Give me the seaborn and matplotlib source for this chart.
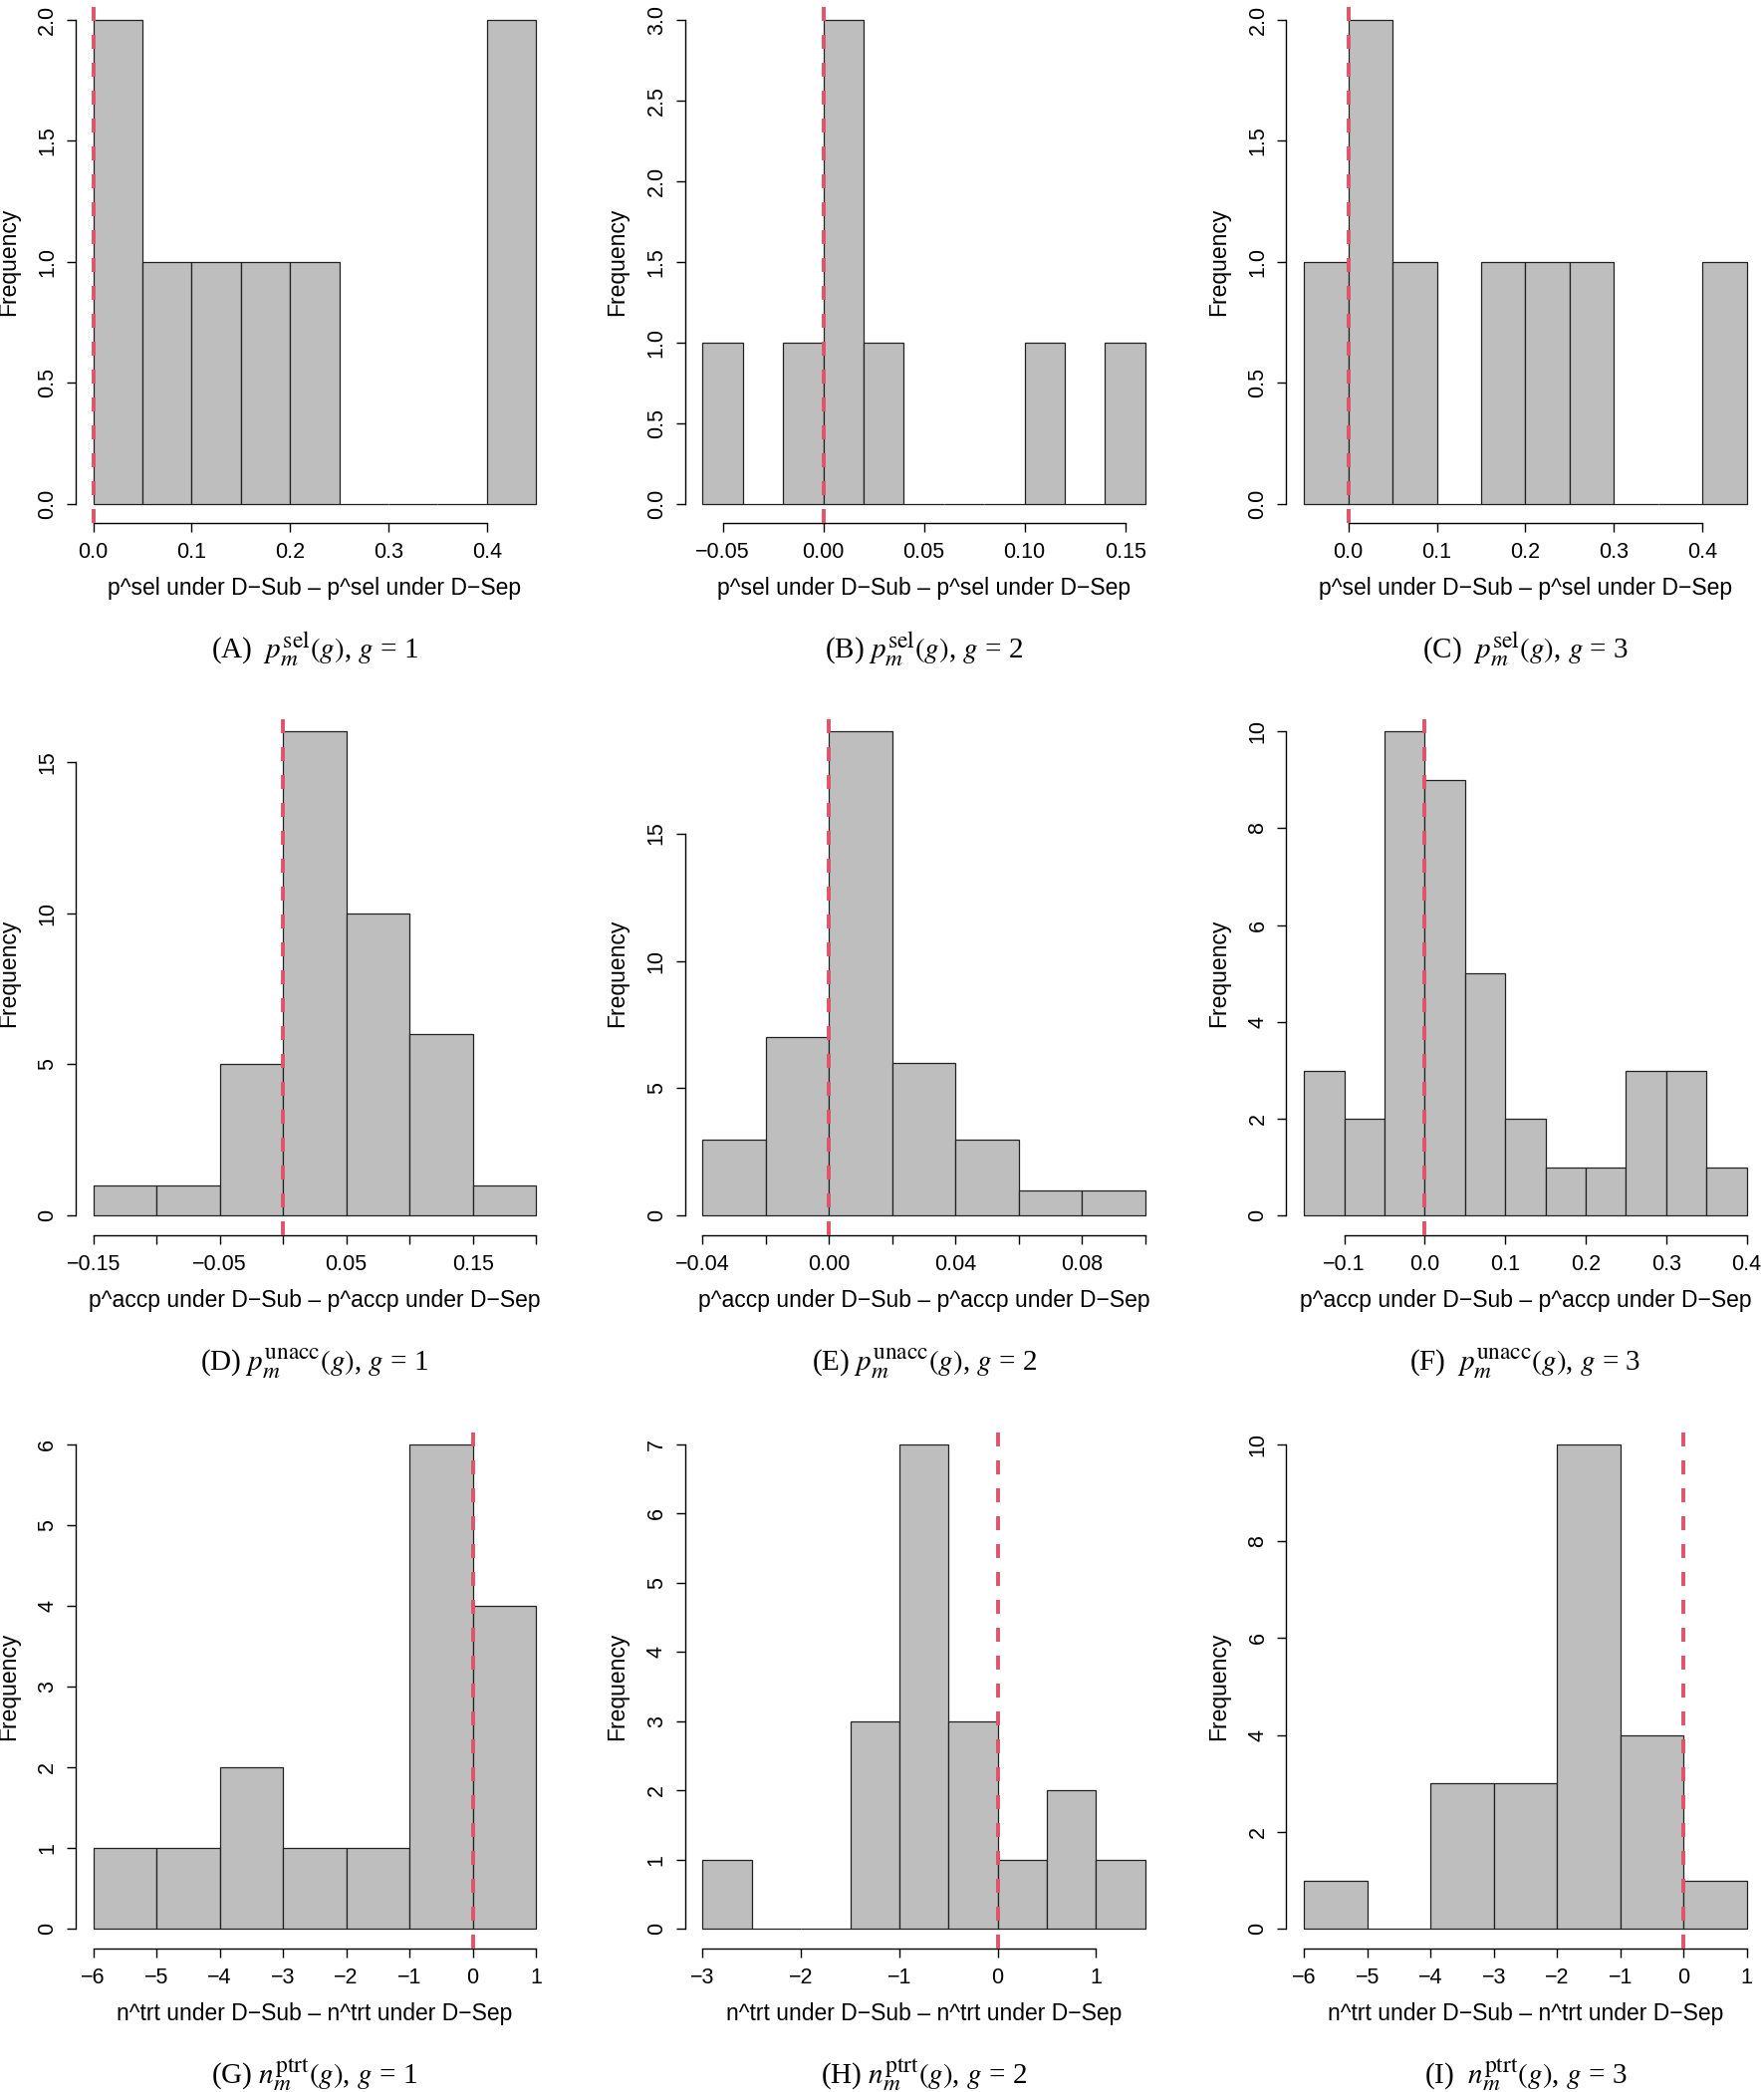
import numpy as np
import pandas as pd
import matplotlib
matplotlib.use("Agg")
import matplotlib.pyplot as plt
import seaborn as sns

try:
    import matplotlib._mathtext as _mt
    _mt.SHRINK_FACTOR = 0.8
except Exception:
    pass

# ---------------- data ----------------
A_breaks = [0.00, 0.05, 0.10, 0.15, 0.20, 0.25, 0.30, 0.35, 0.40, 0.45]
A_counts = [2, 1, 1, 1, 1, 0, 0, 0, 2]
B_breaks = [-0.06, -0.04, -0.02, 0.00, 0.02, 0.04, 0.06, 0.08, 0.10, 0.12, 0.14, 0.16]
B_counts = [1, 0, 1, 3, 1, 0, 0, 0, 1, 0, 1]
C_breaks = [-0.05, 0.00, 0.05, 0.10, 0.15, 0.20, 0.25, 0.30, 0.35, 0.40, 0.45]
C_counts = [1, 2, 1, 0, 1, 1, 1, 0, 0, 1]
D_breaks = [-0.15, -0.10, -0.05, 0.00, 0.05, 0.10, 0.15, 0.20]
D_counts = [1, 1, 5, 16, 10, 6, 1]
E_breaks = [-0.04, -0.02, 0.00, 0.02, 0.04, 0.06, 0.08, 0.10]
E_counts = [3, 7, 19, 6, 3, 1, 1]
F_breaks = [-0.15, -0.10, -0.05, 0.00, 0.05, 0.10, 0.15, 0.20, 0.25, 0.30, 0.35, 0.40]
F_counts = [3, 2, 10, 9, 5, 2, 1, 1, 3, 3, 1]
G_breaks = [-6, -5, -4, -3, -2, -1, 0, 1]
G_counts = [1, 1, 2, 1, 1, 6, 4]
H_breaks = [-3.0, -2.5, -2.0, -1.5, -1.0, -0.5, 0.0, 0.5, 1.0, 1.5]
H_counts = [1, 0, 0, 3, 7, 3, 1, 2, 1]
I_breaks = [-6, -5, -4, -3, -2, -1, 0, 1]
I_counts = [1, 0, 3, 3, 10, 4, 1]

A_xticks = [0.0, 0.1, 0.2, 0.3, 0.4]
A_xlabels = ["0.0", "0.1", "0.2", "0.3", "0.4"]
B_xticks = [-0.05, 0.00, 0.05, 0.10, 0.15]
B_xlabels = ["\u22120.05", "0.00", "0.05", "0.10", "0.15"]
C_xticks = [0.0, 0.1, 0.2, 0.3, 0.4]
C_xlabels = ["0.0", "0.1", "0.2", "0.3", "0.4"]
D_xticks = [-0.15, -0.10, -0.05, 0.00, 0.05, 0.10, 0.15, 0.20]
D_xlabels = ["\u22120.15", "", "\u22120.05", "", "0.05", "", "0.15", ""]
E_xticks = [-0.04, -0.02, 0.00, 0.02, 0.04, 0.06, 0.08, 0.10]
E_xlabels = ["\u22120.04", "", "0.00", "", "0.04", "", "0.08", ""]
F_xticks = [-0.1, 0.0, 0.1, 0.2, 0.3, 0.4]
F_xlabels = ["\u22120.1", "0.0", "0.1", "0.2", "0.3", "0.4"]
G_xticks = [-6, -5, -4, -3, -2, -1, 0, 1]
G_xlabels = ["\u22126", "\u22125", "\u22124", "\u22123", "\u22122", "\u22121", "0", "1"]
H_xticks = [-3, -2, -1, 0, 1]
H_xlabels = ["\u22123", "\u22122", "\u22121", "0", "1"]
I_xticks = [-6, -5, -4, -3, -2, -1, 0, 1]
I_xlabels = ["\u22126", "\u22125", "\u22124", "\u22123", "\u22122", "\u22121", "0", "1"]

A_yticks = [0.0, 0.5, 1.0, 1.5, 2.0]
A_ylabels = ["0.0", "0.5", "1.0", "1.5", "2.0"]
B_yticks = [0.0, 0.5, 1.0, 1.5, 2.0, 2.5, 3.0]
B_ylabels = ["0.0", "0.5", "1.0", "1.5", "2.0", "2.5", "3.0"]
C_yticks = [0.0, 0.5, 1.0, 1.5, 2.0]
C_ylabels = ["0.0", "0.5", "1.0", "1.5", "2.0"]
D_yticks = [0, 5, 10, 15]
D_ylabels = ["0", "5", "10", "15"]
E_yticks = [0, 5, 10, 15]
E_ylabels = ["0", "5", "10", "15"]
F_yticks = [0, 2, 4, 6, 8, 10]
F_ylabels = ["0", "2", "4", "6", "8", "10"]
G_yticks = [0, 1, 2, 3, 4, 5, 6]
G_ylabels = ["0", "1", "2", "3", "4", "5", "6"]
H_yticks = [0, 1, 2, 3, 4, 5, 6, 7]
H_ylabels = ["0", "1", "2", "3", "4", "5", "6", "7"]
I_yticks = [0, 2, 4, 6, 8, 10]
I_ylabels = ["0", "2", "4", "6", "8", "10"]

xlab_sel = "p^sel under D\u2212Sub \u2013 p^sel under D\u2212Sep"
xlab_accp = "p^accp under D\u2212Sub \u2013 p^accp under D\u2212Sep"
xlab_trt = "n^trt under D\u2212Sub \u2013 n^trt under D\u2212Sep"

captions = [
    r"(A)  $p_m^{\mathrm{sel}}(g)$, $g$ = 1",
    r"(B) $p_m^{\mathrm{sel}}(g)$, $g$ = 2",
    r"(C)  $p_m^{\mathrm{sel}}(g)$, $g$ = 3",
    r"(D) $p_m^{\mathrm{unacc}}(g)$, $g$ = 1",
    r"(E) $p_m^{\mathrm{unacc}}(g)$, $g$ = 2",
    r"(F)  $p_m^{\mathrm{unacc}}(g)$, $g$ = 3",
    r"(G) $n_m^{\mathrm{ptrt}}(g)$, $g$ = 1",
    r"(H) $n_m^{\mathrm{ptrt}}(g)$, $g$ = 2",
    r"(I)  $n_m^{\mathrm{ptrt}}(g)$, $g$ = 3",
]

ref_value = 0.0

panels = [
    (A_breaks, A_counts, A_xticks, A_xlabels, A_yticks, A_ylabels, xlab_sel),
    (B_breaks, B_counts, B_xticks, B_xlabels, B_yticks, B_ylabels, xlab_sel),
    (C_breaks, C_counts, C_xticks, C_xlabels, C_yticks, C_ylabels, xlab_sel),
    (D_breaks, D_counts, D_xticks, D_xlabels, D_yticks, D_ylabels, xlab_accp),
    (E_breaks, E_counts, E_xticks, E_xlabels, E_yticks, E_ylabels, xlab_accp),
    (F_breaks, F_counts, F_xticks, F_xlabels, F_yticks, F_ylabels, xlab_accp),
    (G_breaks, G_counts, G_xticks, G_xlabels, G_yticks, G_ylabels, xlab_trt),
    (H_breaks, H_counts, H_xticks, H_xlabels, H_yticks, H_ylabels, xlab_trt),
    (I_breaks, I_counts, I_xticks, I_xlabels, I_yticks, I_ylabels, xlab_trt),
]

# ---------------- style ----------------
sns.set_style("white")
plt.rcParams["font.family"] = ["Liberation Sans", "DejaVu Sans"]
plt.rcParams["mathtext.fontset"] = "stix"
plt.rcParams["axes.unicode_minus"] = True

W, H = 1771, 2100
fig = plt.figure(figsize=(W / 100, H / 100), dpi=100)

col_left = [75.9, 687.6, 1291.4]
col_w = 480.0
row_top = [0.2, 714.8, 1430.6]
row_h = 525.0

TICK_FS = 15.5
LAB_FS = 16.5
CAP_FS = 21

for i, (brk, cnt, xt, xtl, yt, ytl, xlab) in enumerate(panels):
    r, c = divmod(i, 3)
    left = col_left[c] / W
    bottom = 1 - (row_top[r] + row_h) / H
    ax = fig.add_axes([left, bottom, col_w / W, row_h / H])

    edges = [float(b) for b in brk]
    centers = [(edges[k] + edges[k + 1]) / 2 for k in range(len(edges) - 1)]
    df = pd.DataFrame({"x": centers, "n": [float(v) for v in cnt]})
    sns.histplot(data=df, x="x", weights="n", bins=edges, ax=ax,
                 color="#BEBEBE", edgecolor="#222222", linewidth=0.9,
                 alpha=1.0, zorder=2)

    # R-style 4% padding on both axes
    x0, x1 = edges[0], edges[-1]
    xp = 0.04 * (x1 - x0)
    ymax = max(cnt)
    yp = 0.04 * ymax
    ax.set_xlim(x0 - xp, x1 + xp)
    ax.set_ylim(-yp, ymax + yp)

    ax.axvline(ref_value, color="#DF536B", lw=2.8,
               linestyle=(0, (3.6, 3.6)), dash_capstyle="butt", zorder=4)

    for s in ["top", "right"]:
        ax.spines[s].set_visible(False)
    for s in ["left", "bottom"]:
        ax.spines[s].set_linewidth(1.0)
        ax.spines[s].set_color("black")
    ax.spines["bottom"].set_bounds(xt[0], xt[-1])
    ax.spines["left"].set_bounds(yt[0], yt[-1])

    ax.set_xticks(xt)
    ax.set_xticklabels(xtl)
    ax.set_yticks(yt)
    ax.set_yticklabels(ytl)
    ax.tick_params(axis="both", direction="out", length=6.8, width=1.0,
                   color="black", labelsize=TICK_FS, labelcolor="black",
                   bottom=True, left=True)
    ax.tick_params(axis="x", pad=7.0)
    ax.tick_params(axis="y", pad=6.0)
    for lab in ax.get_yticklabels():
        lab.set_rotation(90)
        lab.set_verticalalignment("center")

    ax.set_xlabel(xlab, fontsize=LAB_FS, color="black")
    ax.set_ylabel("Frequency", fontsize=LAB_FS, color="black")
    ax.xaxis.set_label_coords(0.5, -54.0 / row_h)
    ax.yaxis.set_label_coords(-56.0 / col_w, 0.5)
    ax.grid(False)
    ax.set_facecolor("none")

    ax.text(0.5, -136.0 / row_h, captions[i], transform=ax.transAxes,
            ha="center", va="baseline", fontsize=CAP_FS, color="black",
            family=["Liberation Serif", "DejaVu Serif"])

fig.savefig("out.png", dpi=100, facecolor="white")
